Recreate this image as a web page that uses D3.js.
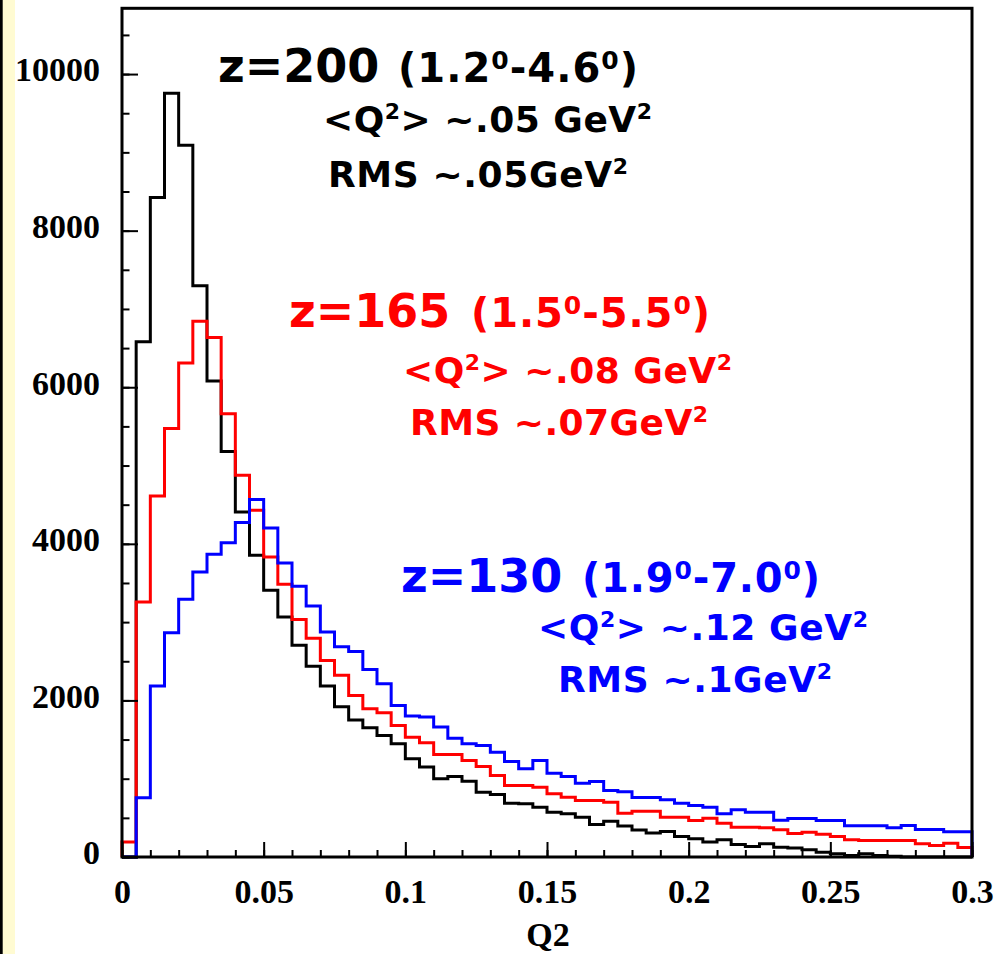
<!DOCTYPE html>
<html><head><meta charset="utf-8">
<script src="https://cdn.jsdelivr.net/npm/d3@7"></script>
<style>html,body{margin:0;padding:0;background:#fff;} svg{display:block}</style>
</head><body>
<svg id="c" width="997" height="954"></svg>
<script>
// ---------------- data ----------------
const binWidth = 0.005;
const binStarts = d3.range(60).map(i => +(i * binWidth).toFixed(3));

const countsZ200 = [0,6580,8425,9755,9090,7295,6080,5180,4407,3853,
  3406,3065,2703,2435,2183,1920,1750,1651,1553,1447,
  1255,1148,999,1029,969,828,799,688,680,637,
  573,552,509,415,458,395,345,305,326,262,
  232,190,220,160,134,169,125,115,92,61,
  41,19,41,19,10,0,0,0,0,0];
const countsZ165 = [190,3256,4611,5472,6311,6844,6636,5660,4876,4428,
  3831,3483,3035,2795,2511,2320,2064,1894,1843,1681,
  1531,1459,1310,1310,1233,1157,1042,914,914,892,
  808,764,722,722,700,560,585,585,509,509,
  466,496,432,381,381,375,347,300,317,290,
  262,220,211,211,211,211,169,147,176,120];
const countsZ130 = [0,756,2183,2865,3291,3640,3866,4015,4271,4565,
  4202,3755,3457,3207,2873,2685,2626,2396,2213,1936,
  1800,1787,1659,1518,1447,1425,1339,1220,1127,1233,
  1071,1029,943,965,850,835,760,760,731,688,
  658,637,552,603,573,573,470,492,492,466,
  466,400,400,400,373,401,350,350,323,323];

const seriesNames = ["z=200", "z=165", "z=130"];
const seriesColors = ["#000000", "#ff0000", "#0000ff"];
const seriesRanges = [["1.2", "4.6"], ["1.5", "5.5"], ["1.9", "7.0"]];
const seriesMeanQ2 = [".05", ".08", ".12"];
const seriesRMS = [".05", ".07", ".1"];

const xTickValues = [0, 0.05, 0.1, 0.15, 0.2, 0.25, 0.3];
const xTickLabels = ["0", "0.05", "0.1", "0.15", "0.2", "0.25", "0.3"];
const yTickValues = [0, 2000, 4000, 6000, 8000, 10000];
const yTickLabels = ["0", "2000", "4000", "6000", "8000", "10000"];
const xAxisTitle = "Q2";

// ---------------- layout ----------------
const svg = d3.select("#c");
const L = 122, R = 972, T = 8.3, B = 857;
const x = d3.scaleLinear().domain([0, 0.3]).range([L, R]);
const y = d3.scaleLinear().domain([0, 10840]).range([B, T]);

// left decoration strip
svg.append("rect").attr("x", 0).attr("y", 0).attr("width", 15).attr("height", 954).attr("fill", "#fffbd2");
svg.append("rect").attr("x", 0).attr("y", 0).attr("width", 2.7).attr("height", 954).attr("fill", "#000");

// histograms
const allSeries = [countsZ200, countsZ165, countsZ130];
const line = d3.line().x(d => d[0]).y(d => d[1]);
allSeries.forEach((counts, s) => {
  const pts = [[x(binStarts[0]), y(0)]];
  counts.forEach((v, i) => {
    pts.push([x(binStarts[i]), y(v)]);
    pts.push([x(binStarts[i] + binWidth), y(v)]);
  });
  pts.push([x(binStarts[counts.length - 1] + binWidth), y(0)]);
  svg.append("path").attr("d", line(pts)).attr("fill", "none")
    .attr("stroke", seriesColors[s]).attr("stroke-width", 3).attr("stroke-linejoin", "miter");
});

// axes (ticks inside, ROOT style)
const serif = "'Liberation Serif','Times New Roman',serif";
const gyMinor = svg.append("g").attr("transform", `translate(${L},0)`)
  .call(d3.axisLeft(y).tickValues(d3.range(0, 10841, 500)).tickSize(-7.5).tickFormat(""));
const gy = svg.append("g").attr("transform", `translate(${L},0)`)
  .call(d3.axisLeft(y).tickValues(yTickValues).tickSize(-16).tickPadding(22)
    .tickFormat((d, i) => yTickLabels[i]));
const gxMinor = svg.append("g").attr("transform", `translate(0,${B})`)
  .call(d3.axisBottom(x).tickValues(d3.range(0, 0.3001, 0.01)).tickSize(-7).tickFormat(""));
const gx = svg.append("g").attr("transform", `translate(0,${B})`)
  .call(d3.axisBottom(x).tickValues(xTickValues).tickSize(-15).tickPadding(22)
    .tickFormat((d, i) => xTickLabels[i]));
[gyMinor, gy, gxMinor, gx].forEach(g => {
  g.select(".domain").remove();
  g.selectAll(".tick line").attr("stroke", "#000").attr("stroke-width", 2);
  g.selectAll("text").attr("font-family", serif).attr("font-weight", "bold")
    .attr("font-size", 34).attr("fill", "#000");
});
gy.selectAll("text").attr("dy", "0.2em");

// frame
svg.append("rect").attr("x", L).attr("y", T).attr("width", R - L).attr("height", B - T)
  .attr("fill", "none").attr("stroke", "#000").attr("stroke-width", 3);

// axis title
svg.append("text").attr("x", (L + R) / 2 + 1).attr("y", 946).attr("text-anchor", "middle")
  .attr("font-family", serif).attr("font-weight", "bold").attr("font-size", 34).text(xAxisTitle);

// annotations
const sans = "'DejaVu Sans','Verdana',sans-serif";
const annPos = [
  {t: [218, 82], p: [398, 240], m: [323, 132, 329], r: [328, 187, 300]},
  {t: [289, 327], p: [471, 239], m: [403, 383, 329], r: [410, 435, 298]},
  {t: [401, 592], p: [582, 238], m: [538, 640, 330], r: [558, 692, 274]}
];
annPos.forEach((p, s) => {
  const col = seriesColors[s];
  svg.append("text").attr("x", p.t[0]).attr("y", p.t[1])
    .attr("font-family", sans).attr("font-weight", "bold").attr("fill", col)
    .attr("font-size", 46).text(seriesNames[s]);

  const q = svg.append("text").attr("x", p.p[0]).attr("y", p.t[1])
    .attr("font-family", sans).attr("font-weight", "bold").attr("fill", col)
    .attr("font-size", 40).attr("textLength", p.p[1]).attr("lengthAdjust", "spacing");
  q.append("tspan").text("(" + seriesRanges[s][0]);
  q.append("tspan").attr("font-size", 25).attr("dy", -13).text("0");
  q.append("tspan").attr("dy", 13).text("-" + seriesRanges[s][1]);
  q.append("tspan").attr("font-size", 25).attr("dy", -13).text("0");
  q.append("tspan").attr("dy", 13).text(")");

  const m = svg.append("text").attr("x", p.m[0]).attr("y", p.m[1])
    .attr("font-family", sans).attr("font-weight", "bold").attr("fill", col).attr("font-size", 36)
    .attr("textLength", p.m[2]).attr("lengthAdjust", "spacing");
  m.append("tspan").text("<Q");
  m.append("tspan").attr("font-size", 22).attr("dy", -13).text("2");
  m.append("tspan").attr("dy", 13).text("> ~" + seriesMeanQ2[s] + " GeV");
  m.append("tspan").attr("font-size", 22).attr("dy", -13).text("2");

  const r = svg.append("text").attr("x", p.r[0]).attr("y", p.r[1])
    .attr("font-family", sans).attr("font-weight", "bold").attr("fill", col).attr("font-size", 36)
    .attr("textLength", p.r[2]).attr("lengthAdjust", "spacing");
  r.append("tspan").text("RMS ~" + seriesRMS[s] + "GeV");
  r.append("tspan").attr("font-size", 22).attr("dy", -13).text("2");
});
</script>
</body></html>
